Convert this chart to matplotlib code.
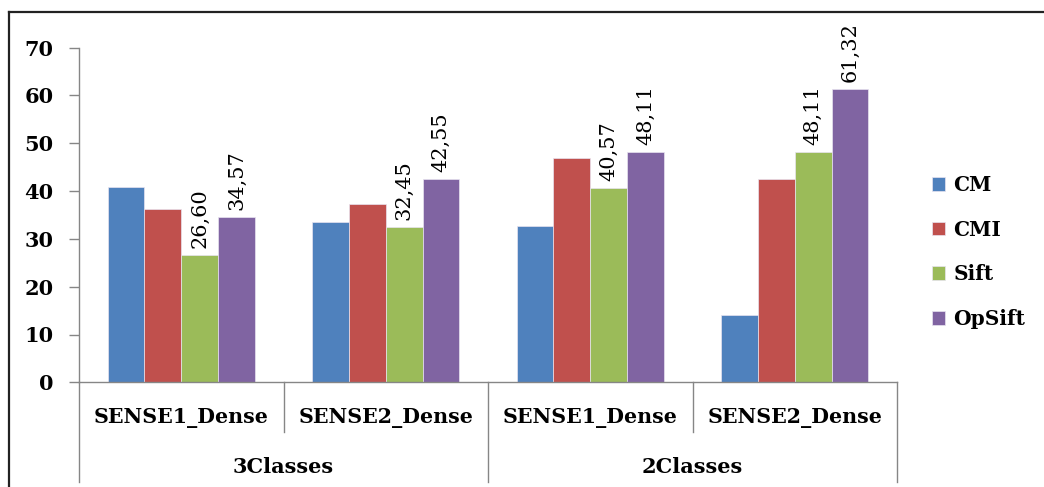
import matplotlib.pyplot as plt
from matplotlib.lines import Line2D
import numpy as np

categories = ['SENSE1_Dense', 'SENSE2_Dense', 'SENSE1_Dense', 'SENSE2_Dense']
classes = ['3Classes', '2Classes']
series = ['CM', 'CMI', 'Sift', 'OpSift']
cm = [40.8, 33.5, 32.8, 14.0]
cmi = [36.3, 37.2, 47.0, 42.5]
sift = [26.60, 32.45, 40.57, 48.11]
opsift = [34.57, 42.55, 48.11, 61.32]
colors = ['#4F81BD', '#C0504D', '#9BBB59', '#8064A2']
labelled = [False, False, True, True]

W, H = 1044, 487
fig = plt.figure(figsize=(W / 100, H / 100), dpi=100)
ax = fig.add_axes([79 / W, 1 - 382.3 / H, (897 - 79) / W, (382.3 - 47.7) / H])

x = np.arange(len(categories))
bw = 0.18
for i, (name, vals) in enumerate(zip(series, [cm, cmi, sift, opsift])):
    bars = ax.bar(x + (i - 1.5) * bw, vals, bw, color=colors[i], label=name,
                  edgecolor='#e8e4f0', linewidth=0.5, zorder=2)
    if labelled[i]:
        for b, v in zip(bars, vals):
            ax.annotate(f'{v:.2f}'.replace('.', ','),
                        (b.get_x() + b.get_width() / 2, v),
                        xytext=(0, 5), textcoords='offset points',
                        rotation=90, ha='center', va='bottom',
                        family='DejaVu Serif', fontsize=15)

ax.set_xlim(-0.5, 3.5)
ax.set_ylim(0, 70)
ax.set_yticks(range(0, 71, 10))
ax.set_xticks([])
for lab in ax.get_yticklabels():
    lab.set_family('DejaVu Serif')
    lab.set_fontweight('bold')
    lab.set_fontsize(15)
ax.tick_params(axis='y', direction='out', length=7.2, width=1, color='#868686', pad=11)
for s in ['top', 'right']:
    ax.spines[s].set_visible(False)
for s in ['left', 'bottom']:
    ax.spines[s].set_color('#868686')
    ax.spines[s].set_linewidth(1)

# hierarchical category axis
tr = ax.get_xaxis_transform()
for xv, y0 in [(-0.5, -0.299), (0.5, -0.149), (1.5, -0.299), (2.5, -0.149), (3.5, -0.299)]:
    ax.plot([xv, xv], [0, y0], transform=tr, clip_on=False, color='#868686', lw=1)
for xi, c in zip(x, categories):
    ax.text(xi, -0.106, c, transform=tr, ha='center', va='center',
            family='DejaVu Serif', fontweight='bold', fontsize=14.8)
for xi, c in zip([0.5, 2.5], classes):
    ax.text(xi, -0.252, c, transform=tr, ha='center', va='center',
            family='DejaVu Serif', fontweight='bold', fontsize=15)

leg = ax.legend(loc='center left', bbox_to_anchor=(914 / W, 1 - 252 / H),
                bbox_transform=fig.transFigure, frameon=False,
                handlelength=0.65, handleheight=0.65, handletextpad=0.4,
                labelspacing=1.22, prop={'family': 'DejaVu Serif', 'weight': 'bold', 'size': 14.5})

# outer frame (top and left only)
fig.add_artist(Line2D([9 / W, 1], [1 - 12 / H, 1 - 12 / H], color='#222222', lw=1.6))
fig.add_artist(Line2D([9 / W, 9 / W], [0, 1 - 12 / H], color='#222222', lw=1.6))

plt.savefig('out.png', dpi=100)
